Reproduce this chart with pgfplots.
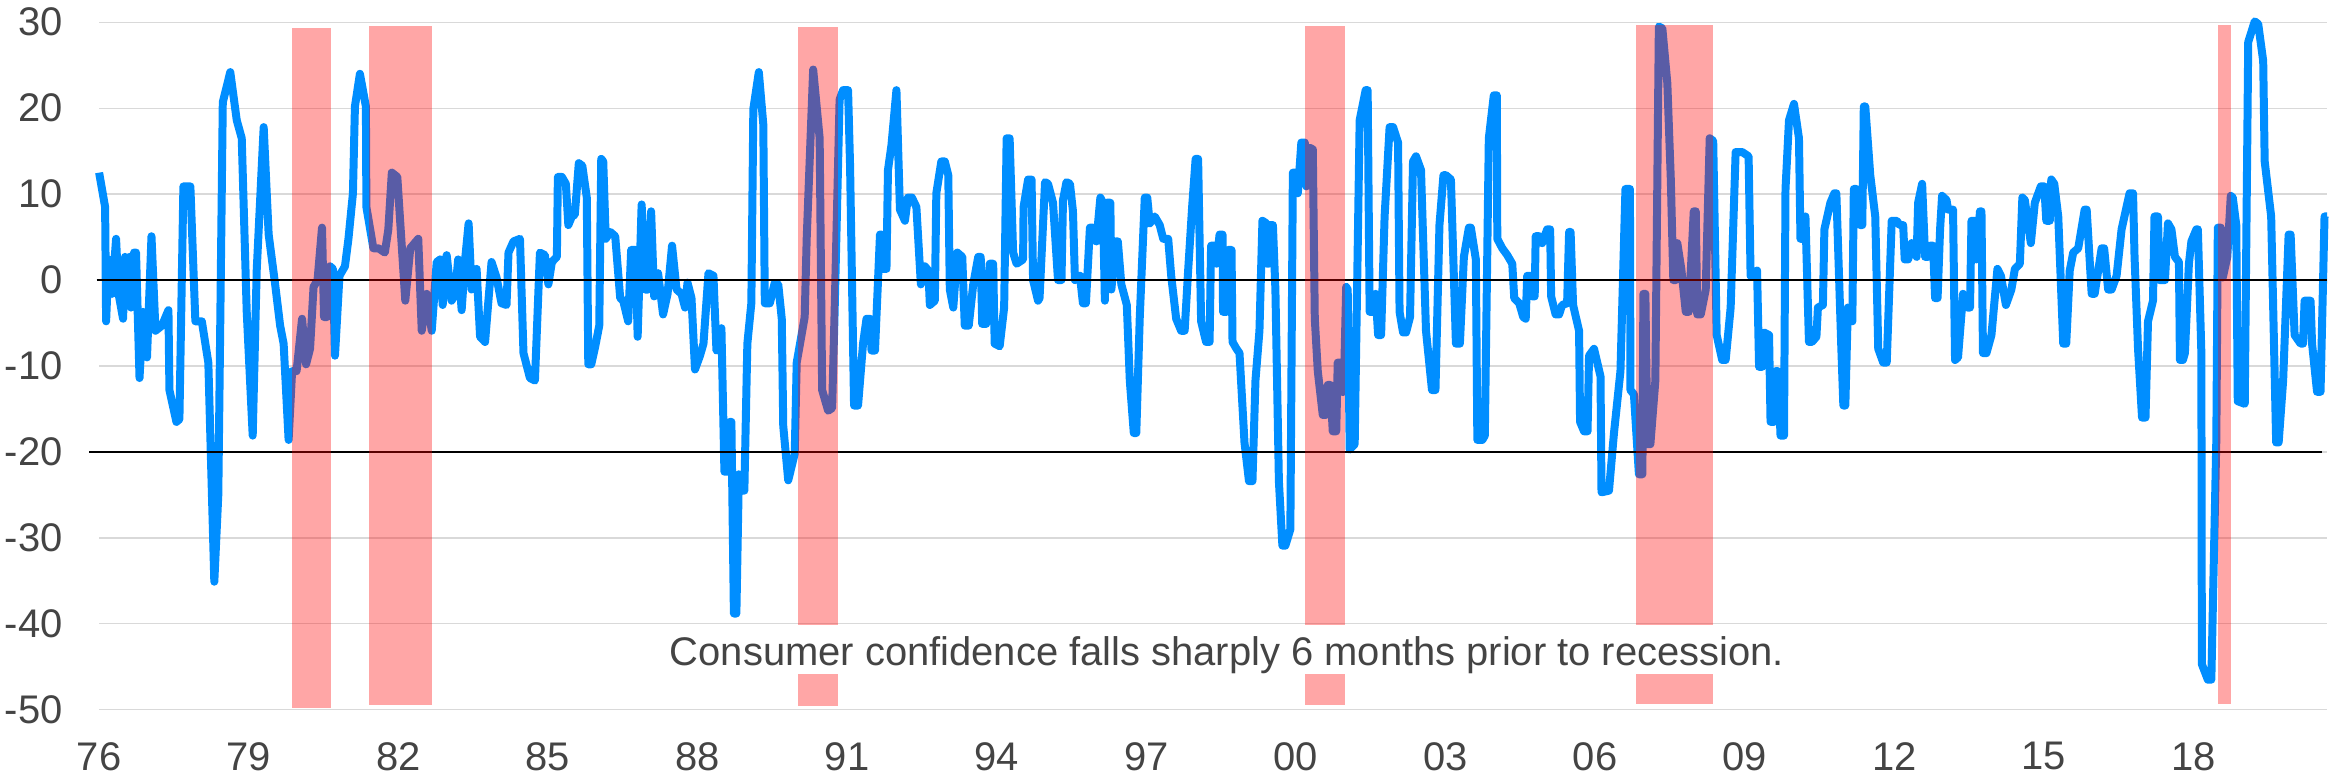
\documentclass[border=0pt]{standalone}
\usepackage{fontspec}
\setmainfont{Liberation Sans}
\usepackage{pgfplots}
\pgfplotsset{compat=1.18}
\definecolor{cline}{RGB}{0,142,255}
\definecolor{txt}{RGB}{68,68,68}
\definecolor{gridc}{RGB}{217,217,217}
\begin{document}
\begin{tikzpicture}
\begin{axis}[
  width=1115.85pt, height=344.35pt, scale only axis,
  xmin=1976, xmax=2020.68, ymin=-50, ymax=30,
  clip=false,
  axis line style={draw=none},
  major tick length=0pt,
  xtick={1976,1979,1982,1985,1988,1991,1994,1997,2000,2003,2006,2009,2012,2015,2018},
  xticklabels={76,79,82,85,88,91,94,97,00,03,06,09,12,15,18},
  ytick={-50,-40,-30,-20,-10,0,10,20,30},
  yticklabels={-50,-40,-30,-20,-10,0,10,20,30},
  ymajorgrids, grid style={color=gridc, line width=0.65pt},
  ticklabel style={font=\fontsize{20}{24}\selectfont, text=txt},
  yticklabel style={anchor=east, inner sep=0pt, xshift=-18.15pt},
  xticklabel style={anchor=north, inner sep=0pt, yshift=-16pt},
]
\addplot[cline, line width=4pt, line join=round, line cap=butt] coordinates {
(1976.00,12.5) (1976.12,8.5) (1976.14,-4.8) (1976.19,2.4) (1976.26,-1.6) (1976.34,4.8) (1976.39,-1.6) (1976.48,-4.5)
(1976.52,2.7) (1976.56,-1.0) (1976.61,2.7) (1976.64,-3.2) (1976.70,3.2) (1976.74,3.2) (1976.81,-11.4) (1976.88,-3.7)
(1976.96,-9.0) (1977.05,5.1) (1977.13,-5.9) (1977.26,-5.3) (1977.39,-3.5) (1977.41,-12.8) (1977.55,-16.5) (1977.61,-16.2)
(1977.69,10.9) (1977.83,10.9) (1977.93,-4.8) (1978.06,-4.8) (1978.19,-9.6) (1978.31,-35.1) (1978.39,-25.0) (1978.48,20.7)
(1978.63,24.2) (1978.76,18.6) (1978.86,16.5) (1978.96,-3.7) (1979.08,-18.1) (1979.16,1.1) (1979.30,17.8) (1979.40,5.3)
(1979.53,-0.5) (1979.63,-5.3) (1979.70,-7.4) (1979.80,-18.6) (1979.87,-10.6) (1979.96,-10.6) (1980.07,-4.5) (1980.15,-9.8)
(1980.23,-8.0) (1980.30,-0.8) (1980.38,0.0) (1980.47,6.1) (1980.51,-4.3) (1980.57,-4.3) (1980.63,1.6) (1980.69,1.3)
(1980.73,-8.8) (1980.82,0.5) (1980.93,1.6) (1981.00,4.8) (1981.09,10.1) (1981.13,20.2) (1981.23,24.0) (1981.35,20.2)
(1981.36,8.5) (1981.50,3.7) (1981.60,3.7) (1981.73,3.2) (1981.80,5.9) (1981.87,12.5) (1981.98,12.0) (1982.14,-2.4)
(1982.24,3.7) (1982.40,4.8) (1982.47,-5.9) (1982.57,-1.6) (1982.67,-5.9) (1982.77,2.1) (1982.84,2.4) (1982.89,-2.9)
(1982.97,2.9) (1983.07,-2.4) (1983.14,-1.6) (1983.20,2.4) (1983.27,-3.5) (1983.34,2.4) (1983.41,6.6) (1983.47,-1.1)
(1983.57,1.3) (1983.64,-6.6) (1983.74,-7.2) (1983.87,2.1) (1983.97,0.3) (1984.07,-2.7) (1984.17,-2.9) (1984.21,3.2)
(1984.31,4.5) (1984.44,4.8) (1984.51,-8.5) (1984.64,-11.4) (1984.74,-11.7) (1984.84,3.2) (1984.94,2.9) (1985.01,-0.5)
(1985.08,2.1) (1985.18,2.7) (1985.20,12.0) (1985.28,12.0) (1985.36,11.2) (1985.41,6.4) (1985.48,7.4) (1985.54,7.6)
(1985.62,13.6) (1985.69,13.3) (1985.78,9.6) (1985.81,-9.8) (1985.87,-9.8) (1985.95,-7.7) (1986.03,-5.3) (1986.07,14.1)
(1986.11,13.8) (1986.16,4.8) (1986.25,5.6) (1986.35,5.1) (1986.45,-2.1) (1986.51,-2.4) (1986.61,-4.8) (1986.67,3.5)
(1986.76,3.5) (1986.80,-6.6) (1986.88,8.8) (1986.95,-1.1) (1987.01,-1.1) (1987.07,8.0) (1987.13,-1.9) (1987.21,0.8)
(1987.31,-4.0) (1987.40,-1.6) (1987.49,4.0) (1987.58,-1.1) (1987.68,-1.6) (1987.75,-3.2) (1987.80,-0.3) (1987.88,-2.1)
(1987.95,-10.4) (1988.05,-8.8) (1988.12,-7.4) (1988.22,0.8) (1988.32,0.5) (1988.38,-8.2) (1988.45,-8.0) (1988.48,-5.6)
(1988.54,-22.3) (1988.62,-22.3) (1988.65,-16.5) (1988.68,-16.5) (1988.73,-38.8) (1988.78,-38.8) (1988.83,-22.6) (1988.88,-24.5)
(1988.94,-24.5) (1989.00,-7.4) (1989.08,-2.7) (1989.12,19.9) (1989.23,24.2) (1989.32,18.1) (1989.35,-2.7) (1989.45,-2.7)
(1989.55,-0.3) (1989.62,-0.5) (1989.69,-4.5) (1989.72,-17.0) (1989.82,-23.3) (1989.95,-20.2) (1989.99,-9.6) (1990.15,-4.3)
(1990.19,4.8) (1990.32,24.5) (1990.45,16.5) (1990.50,-12.8) (1990.62,-15.2) (1990.70,-14.9) (1990.75,-3.7) (1990.85,21.0)
(1990.92,22.1) (1991.02,22.1) (1991.06,13.3) (1991.14,-14.6) (1991.22,-14.6) (1991.32,-7.4) (1991.39,-4.5) (1991.46,-4.5)
(1991.49,-8.2) (1991.56,-8.2) (1991.66,5.3) (1991.69,5.3) (1991.72,1.3) (1991.79,1.3) (1991.82,12.8) (1991.89,15.7)
(1991.99,22.1) (1992.06,8.2) (1992.16,6.9) (1992.22,9.6) (1992.30,9.6) (1992.39,8.5) (1992.48,-0.5) (1992.56,1.6)
(1992.63,1.1) (1992.66,-2.9) (1992.76,-2.4) (1992.79,10.1) (1992.89,13.8) (1992.96,13.8) (1993.03,12.2) (1993.06,-1.1)
(1993.13,-3.2) (1993.21,3.2) (1993.31,2.7) (1993.36,-5.3) (1993.44,-5.3) (1993.53,-0.5) (1993.63,2.7) (1993.68,2.7)
(1993.71,-5.1) (1993.79,-5.1) (1993.86,1.9) (1993.93,1.9) (1993.96,-7.4) (1994.06,-7.7) (1994.15,-3.2) (1994.20,16.5)
(1994.26,16.5) (1994.33,3.2) (1994.40,1.9) (1994.53,2.4) (1994.54,8.5) (1994.63,11.7) (1994.70,11.7) (1994.73,0.0)
(1994.83,-2.4) (1994.86,-2.1) (1994.97,11.4) (1995.03,11.2) (1995.13,9.0) (1995.23,0.0) (1995.30,0.0) (1995.33,9.3)
(1995.40,11.4) (1995.47,11.2) (1995.53,8.0) (1995.57,0.0) (1995.67,0.5) (1995.73,-2.7) (1995.79,-2.7) (1995.87,6.1)
(1995.93,6.1) (1996.00,4.5) (1996.08,9.6) (1996.13,9.0) (1996.17,-2.4) (1996.21,9.0) (1996.28,9.0) (1996.30,-1.1)
(1996.39,4.5) (1996.43,4.5) (1996.50,-0.5) (1996.61,-2.9) (1996.67,-11.7) (1996.75,-17.8) (1996.80,-17.8) (1996.87,-4.3)
(1996.97,9.6) (1997.02,9.6) (1997.07,6.6) (1997.17,7.4) (1997.27,6.4) (1997.34,4.8) (1997.44,4.8) (1997.50,0.5)
(1997.60,-4.5) (1997.70,-5.9) (1997.77,-5.9) (1997.84,1.1) (1997.92,8.5) (1997.99,14.1) (1998.04,14.1) (1998.10,-4.8)
(1998.20,-7.2) (1998.27,-7.2) (1998.30,4.0) (1998.37,4.0) (1998.41,1.9) (1998.47,5.3) (1998.53,5.3) (1998.54,-3.7)
(1998.61,-3.7) (1998.64,3.5) (1998.71,3.5) (1998.73,-7.2) (1998.81,-8.0) (1998.87,-8.5) (1998.97,-18.9) (1999.06,-23.4)
(1999.13,-23.4) (1999.19,-11.7) (1999.27,-5.9) (1999.33,6.9) (1999.41,6.6) (1999.42,1.9) (1999.46,1.9) (1999.47,6.4)
(1999.54,6.4) (1999.59,-1.1) (1999.66,-23.4) (1999.73,-30.9) (1999.79,-30.9) (1999.89,-29.0) (1999.94,12.5) (2000.01,12.5)
(2000.04,10.1) (2000.11,16.0) (2000.18,16.0) (2000.21,10.9) (2000.28,15.4) (2000.34,15.2) (2000.38,-4.5) (2000.44,-10.6)
(2000.54,-15.7) (2000.60,-15.7) (2000.64,-12.2) (2000.69,-12.2) (2000.74,-17.6) (2000.81,-17.6) (2000.84,-9.6) (2000.89,-9.6)
(2000.93,-13.0) (2000.96,-13.0) (2001.01,-0.8) (2001.04,-1.1) (2001.08,-19.7) (2001.18,-19.1) (2001.28,18.6) (2001.40,22.1)
(2001.44,22.1) (2001.48,-3.7) (2001.56,-3.7) (2001.60,-1.6) (2001.65,-6.4) (2001.71,-6.4) (2001.78,7.4) (2001.88,17.8)
(2001.95,17.8) (2002.05,16.0) (2002.08,-3.7) (2002.15,-6.1) (2002.21,-6.1) (2002.29,-4.3) (2002.35,13.8) (2002.41,14.4)
(2002.51,12.8) (2002.61,-5.9) (2002.73,-12.8) (2002.80,-12.8) (2002.88,6.4) (2002.96,12.2) (2003.01,12.2) (2003.11,11.7)
(2003.21,-7.4) (2003.29,-7.4) (2003.37,2.7) (2003.47,6.1) (2003.51,6.1) (2003.61,2.4) (2003.64,-18.6) (2003.74,-18.6)
(2003.79,-18.1) (2003.87,16.5) (2003.97,21.5) (2004.03,21.5) (2004.04,4.8) (2004.14,3.7) (2004.24,2.9) (2004.34,1.9)
(2004.38,-2.1) (2004.48,-2.7) (2004.56,-4.3) (2004.61,-4.5) (2004.64,0.5) (2004.72,0.5) (2004.74,-1.9) (2004.79,-1.9)
(2004.81,5.1) (2004.88,5.1) (2004.94,4.3) (2005.04,5.9) (2005.10,5.9) (2005.12,-1.9) (2005.21,-4.0) (2005.28,-4.0)
(2005.34,-2.9) (2005.44,-2.7) (2005.48,5.6) (2005.51,5.6) (2005.56,-2.9) (2005.68,-5.9) (2005.70,-16.5) (2005.78,-17.6)
(2005.85,-17.6) (2005.88,-8.8) (2005.98,-8.0) (2006.11,-11.2) (2006.13,-24.7) (2006.28,-24.5) (2006.38,-17.8) (2006.51,-10.6)
(2006.61,10.6) (2006.70,10.6) (2006.71,-12.8) (2006.78,-13.3) (2006.88,-22.6) (2006.95,-22.6) (2006.97,-1.6) (2007.01,-1.6)
(2007.05,-19.1) (2007.11,-19.1) (2007.21,-11.7) (2007.28,29.5) (2007.35,29.3) (2007.45,22.9) (2007.52,11.7) (2007.57,0.0)
(2007.62,0.0) (2007.65,4.3) (2007.73,1.3) (2007.82,-3.7) (2007.88,-3.7) (2007.98,8.0) (2008.02,8.0) (2008.05,-4.0)
(2008.12,-4.0) (2008.22,-1.1) (2008.30,16.5) (2008.37,16.2) (2008.44,-6.4) (2008.55,-9.3) (2008.62,-9.3) (2008.72,-3.2)
(2008.82,14.9) (2008.95,14.9) (2009.08,14.4) (2009.12,0.5) (2009.25,1.1) (2009.29,-10.1) (2009.35,-10.1) (2009.39,-6.1)
(2009.49,-6.4) (2009.52,-16.5) (2009.59,-16.5) (2009.62,-10.6) (2009.67,-10.6) (2009.72,-18.1) (2009.79,-18.1) (2009.82,10.6)
(2009.89,18.6) (2009.99,20.5) (2010.09,16.5) (2010.12,4.8) (2010.19,4.8) (2010.22,7.4) (2010.29,-7.2) (2010.35,-7.2)
(2010.44,-6.6) (2010.47,-3.2) (2010.57,-2.9) (2010.60,5.9) (2010.72,9.0) (2010.80,10.1) (2010.84,10.1) (2010.94,-8.0)
(2010.98,-14.6) (2011.02,-14.6) (2011.07,-3.2) (2011.16,-4.8) (2011.19,10.6) (2011.24,10.6) (2011.32,6.4) (2011.36,6.4)
(2011.39,20.2) (2011.42,20.2) (2011.52,12.2) (2011.62,7.4) (2011.68,-8.0) (2011.78,-9.6) (2011.85,-9.6) (2011.95,6.9)
(2012.05,6.9) (2012.11,6.4) (2012.18,6.4) (2012.21,2.4) (2012.28,2.4) (2012.35,4.3) (2012.45,2.7) (2012.48,9.0)
(2012.56,11.2) (2012.62,2.7) (2012.68,2.7) (2012.72,4.0) (2012.78,4.0) (2012.82,-2.1) (2012.87,-2.1) (2012.92,5.9)
(2012.96,9.8) (2013.05,9.3) (2013.08,8.2) (2013.18,8.2) (2013.22,-9.3) (2013.28,-9.0) (2013.38,-1.6) (2013.47,-3.2)
(2013.52,-3.2) (2013.55,6.9) (2013.62,6.9) (2013.65,2.4) (2013.72,8.0) (2013.75,8.0) (2013.78,-8.5) (2013.85,-8.5)
(2013.95,-6.4) (2014.07,1.3) (2014.14,0.5) (2014.24,-2.9) (2014.35,-1.1) (2014.42,1.3) (2014.52,1.9) (2014.57,9.6)
(2014.62,9.3) (2014.74,4.3) (2014.82,9.0) (2014.94,10.9) (2015.01,10.9) (2015.05,6.9) (2015.12,6.9) (2015.15,11.7)
(2015.21,11.2) (2015.29,7.4) (2015.39,-7.4) (2015.45,-7.4) (2015.52,1.1) (2015.59,3.2) (2015.69,3.7) (2015.82,8.2)
(2015.86,8.2) (2015.96,-1.6) (2016.02,-1.6) (2016.16,3.7) (2016.21,3.7) (2016.29,-1.1) (2016.36,-1.1) (2016.46,0.5)
(2016.56,5.9) (2016.72,10.1) (2016.79,10.1) (2016.82,2.7) (2016.89,-8.0) (2016.97,-16.0) (2017.04,-16.0) (2017.09,-4.8)
(2017.19,-2.4) (2017.22,7.4) (2017.29,7.4) (2017.32,0.0) (2017.43,0.0) (2017.49,6.6) (2017.56,5.9) (2017.63,2.7)
(2017.71,2.1) (2017.73,-9.3) (2017.79,-9.3) (2017.83,-8.5) (2017.91,1.9) (2017.96,4.5) (2018.06,5.9) (2018.09,5.9)
(2018.16,-8.5) (2018.17,-44.7) (2018.29,-46.5) (2018.36,-46.5) (2018.46,-18.6) (2018.49,6.1) (2018.55,6.1) (2018.59,0.3)
(2018.68,2.7) (2018.75,9.8) (2018.79,9.6) (2018.86,6.4) (2018.89,-14.1) (2019.03,-14.4) (2019.10,27.7) (2019.23,30.1)
(2019.30,29.8) (2019.40,25.5) (2019.43,13.8) (2019.56,7.4) (2019.66,-18.9) (2019.71,-18.9) (2019.80,-11.7) (2019.91,5.3)
(2019.95,5.3) (2020.03,-6.4) (2020.15,-7.4) (2020.20,-7.4) (2020.23,-2.4) (2020.35,-2.4) (2020.38,-7.4) (2020.48,-13.0)
(2020.55,-13.0) (2020.63,7.4) (2020.68,7.4)
};
\addplot[black, line width=1pt, forget plot] coordinates {(1975.95,0) (2020.68,0)};
\addplot[black, line width=1pt, forget plot] coordinates {(1975.8,-20) (2020.58,-20)};
\addplot[draw=none, fill=red, fill opacity=0.35] coordinates {(1979.86,-49.8) (1980.66,-49.8) (1980.66,29.3) (1979.86,29.3)} -- cycle;
\addplot[draw=none, fill=red, fill opacity=0.35] coordinates {(1981.42,-49.5) (1982.68,-49.5) (1982.68,29.6) (1981.42,29.6)} -- cycle;
\addplot[draw=none, fill=red, fill opacity=0.35] coordinates {(1990.02,-49.6) (1990.82,-49.6) (1990.82,29.4) (1990.02,29.4)} -- cycle;
\addplot[draw=none, fill=red, fill opacity=0.35] coordinates {(2000.18,-49.4) (2000.98,-49.4) (2000.98,29.6) (2000.18,29.6)} -- cycle;
\addplot[draw=none, fill=red, fill opacity=0.35] coordinates {(2006.83,-49.3) (2008.37,-49.3) (2008.37,29.7) (2006.83,29.7)} -- cycle;
\addplot[draw=none, fill=red, fill opacity=0.35] coordinates {(2018.49,-49.3) (2018.75,-49.3) (2018.75,29.7) (2018.49,29.7)} -- cycle;
\node[fill=white, anchor=base, inner xsep=6pt, inner ysep=0pt, text height=20.2pt, text depth=4.5pt,
      text=txt, font=\fontsize{20}{24}\selectfont] at (axis cs:1998.62,-44.8)
      {Consumer confidence falls sharply 6 months prior to recession.};
\end{axis}
\path (current axis.south west) ++(-49.65pt,-34pt) rectangle ([yshift=11.15pt]current axis.north east);
\end{tikzpicture}
\end{document}
